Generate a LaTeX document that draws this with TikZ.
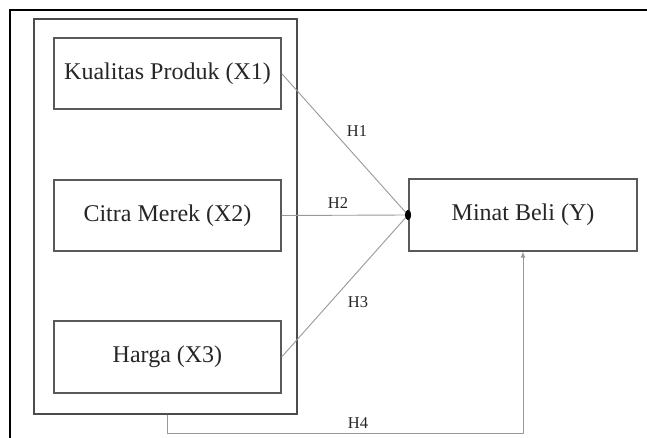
\documentclass[tikz,border=0pt]{standalone}
\usepackage{fontspec}
\setmainfont{Liberation Serif}
\usetikzlibrary{arrows.meta,shapes.geometric}
\begin{document}
\begin{tikzpicture}[x=1bp,y=-1bp,
  box/.style={draw=black!65,line width=1.3bp,fill=white,inner sep=0pt,
    text=black!85,font=\fontsize{24bp}{28bp}\selectfont},
  grpbox/.style={draw=black!70,line width=1.3bp,inner sep=0pt},
  link/.style={draw=black!40,line width=0.9bp},
  hlab/.style={text=black!85,font=\fontsize{16.5bp}{19bp}\selectfont,inner sep=1bp},
  jdot/.style={ellipse,fill=black,inner sep=0pt,minimum width=6bp,minimum height=10bp}]
\useasboundingbox (0,0) rectangle (647,438);
\fill[white] (0,0) rectangle (647,438);
% outer frame (top and left only)
\draw[line width=1.6bp,black] (10,438) -- (10,10) -- (647,10);
% group box
\node[grpbox,minimum width=263bp,minimum height=395bp] (grp) at (165.5,216.5) {};
% boxes
\node[box,minimum width=227bp,minimum height=71bp] (x1) at (167.5,73.5) {Kualitas Produk (X1)};
\node[box,minimum width=227bp,minimum height=71bp] (x2) at (167.5,215.5) {Citra Merek (X2)};
\node[box,minimum width=227bp,minimum height=72bp] (x3) at (167.5,357) {Harga (X3)};
\node[box,minimum width=228bp,minimum height=72bp] (y) at (523,215) {Minat Beli (Y)};
% junction dot
\node[jdot] (j) at (408,215) {};
% links
\draw[link] (x1.east) -- (j.center);
\draw[link] (x2.east) -- (j.center);
\draw[link] (x3.east) -- (j.center);
\node[jdot] at (408,215) {};
\draw[link,-{Latex[length=6bp,width=5bp]}] ([xshift=1.5bp]grp.south) -- ++(0,19) -| (y.south);
% labels
\node[hlab] (h1) at (357,131) {H1};
\node[hlab] (h2) at (338,203) {H2};
\node[hlab] (h3) at (358,302) {H3};
\node[hlab] (h4) at (358,423) {H4};
\end{tikzpicture}
\end{document}
